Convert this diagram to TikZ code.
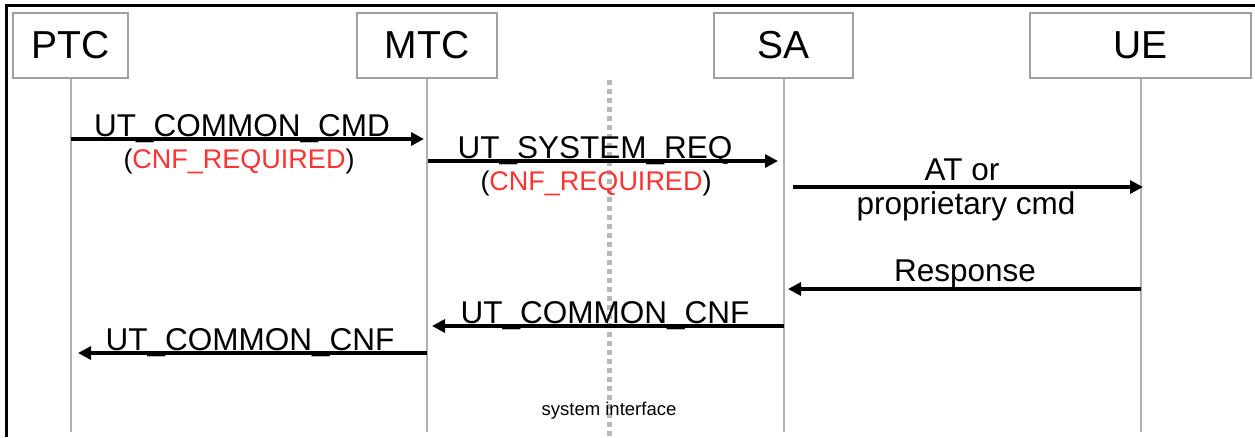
\documentclass[tikz,border=0pt]{standalone}
\usepackage{fontspec}
\setmainfont{Liberation Sans}
\usetikzlibrary{arrows.meta}
\definecolor{boxgray}{HTML}{A0A0A0}
\definecolor{linegray}{HTML}{B0B0B0}
\definecolor{dotgray}{HTML}{B8B8B8}
\definecolor{cnfred}{HTML}{FF3333}
\begin{document}
\begin{tikzpicture}[x=1pt,y=-1pt,
  actor/.style={draw=boxgray,line width=2pt,minimum height=65pt,inner sep=0pt,font=\fontsize{39}{42}\selectfont},
  life/.style={draw=linegray,line width=2pt},
  msg/.style={draw=black,line width=4pt,-{Triangle[length=13pt,width=13pt]}},
  lbl/.style={anchor=base,inner sep=0pt,font=\fontsize{31.5}{34}\selectfont},
  sub/.style={anchor=base,inner sep=0pt,font=\fontsize{27}{29}\selectfont},
  iface/.style={draw=dotgray,line width=5pt,dash pattern=on 5pt off 4pt}
]
\useasboundingbox (0,0) rectangle (1255,437);
% frame (top and left edges)
\draw[line width=3pt] (1255,5.5) -- (6,5.5) -- (6,437);
% actors
\node[actor,minimum width=115pt] (ptc) at (70.5,45.5) {PTC};
\node[actor,minimum width=140pt] (mtc) at (427,45.5) {MTC};
\node[actor,minimum width=139pt] (sa) at (783.5,45.5) {SA};
\node[actor,minimum width=221pt] (ue) at (1140.5,45.5) {UE};
% lifeline ends
\coordinate (ptcEnd) at (70.5,432);
\coordinate (mtcEnd) at (427,432);
\coordinate (saEnd) at (783.5,432);
\coordinate (ueEnd) at (1140.5,432);
\draw[life] (ptc.south) -- (ptcEnd);
\draw[life] (mtc.south) -- (mtcEnd);
\draw[life] (sa.south) -- (saEnd);
\draw[life] (ue.south) -- (ueEnd);
% system interface line
\coordinate (ifTop) at (609,80);
\coordinate (ifBot) at (609,437);
\draw[iface] (ifTop) -- (ifBot);
\node[anchor=base,inner sep=0pt,font=\fontsize{18.5}{20}\selectfont] (ifl) at (609,415) {system interface};
% message points
\coordinate (a1s) at (70.5,139);  \coordinate (a1e) at (424,139);
\coordinate (a2s) at (428,161);   \coordinate (a2e) at (778,161);
\coordinate (a3s) at (793,187);   \coordinate (a3e) at (1143,187);
\coordinate (a4s) at (1140.5,289);\coordinate (a4e) at (788,289);
\coordinate (a5s) at (783.5,326); \coordinate (a5e) at (432,326);
\coordinate (a6s) at (427,353);   \coordinate (a6e) at (78,353);
\draw[msg] (a1s) -- (a1e);
\draw[msg] (a2s) -- (a2e);
\draw[msg] (a3s) -- (a3e);
\draw[msg] (a4s) -- (a4e);
\draw[msg] (a5s) -- (a5e);
\draw[msg] (a6s) -- (a6e);
% labels
\node[lbl] (l1) at (242,136) {UT\_COMMON\_CMD};
\node[sub] (l1b) at (239,168) {(\textcolor{cnfred}{CNF\_REQUIRED})};
\node[lbl] (l2) at (595,158) {UT\_SYSTEM\_REQ};
\node[sub] (l2b) at (596,190) {(\textcolor{cnfred}{CNF\_REQUIRED})};
\node[lbl] (l3) at (962,180) {AT or};
\node[lbl] (l3b) at (966,214) {proprietary cmd};
\node[lbl] (l4) at (965,281) {Response};
\node[lbl] (l5) at (605,323) {UT\_COMMON\_CNF};
\node[lbl] (l6) at (250,350) {UT\_COMMON\_CNF};
\end{tikzpicture}
\end{document}
